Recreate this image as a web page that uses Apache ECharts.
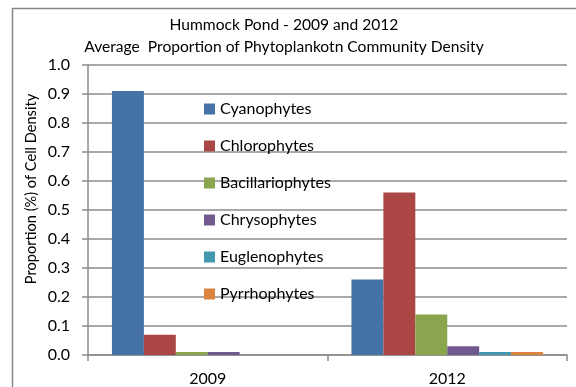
<!DOCTYPE html>
<html>
<head>
<meta charset="utf-8">
<script src="https://cdn.jsdelivr.net/npm/echarts@6/dist/echarts.min.js"></script>
<style>
  html, body { margin: 0; padding: 0; background: #fff; }
  #chart { width: 576px; height: 387px; }
</style>
</head>
<body>
<div id="chart"></div>
<script>
// Sampling years on the category axis
const years = ['2009', '2012'];

// Average proportion of cell density per phytoplankton group
const groupNames = ['Cyanophytes', 'Chlorophytes', 'Bacillariophytes', 'Chrysophytes', 'Euglenophytes', 'Pyrrhophytes'];
const cyanophytes      = [0.91, 0.26];
const chlorophytes     = [0.07, 0.56];
const bacillariophytes = [0.01, 0.14];
const chrysophytes     = [0.01, 0.03];
const euglenophytes    = [0.00, 0.01];
const pyrrhophytes     = [0.00, 0.01];

const groupValues = [cyanophytes, chlorophytes, bacillariophytes, chrysophytes, euglenophytes, pyrrhophytes];
const groupColors = ['#4572A7', '#AA4643', '#89A54E', '#71588F', '#4198AF', '#DB843D'];

const FONT = 'Lato, "Liberation Sans", sans-serif';
const GRAY = '#8c8c8c';

const chart = echarts.init(document.getElementById('chart'), null, { renderer: 'canvas' });

chart.setOption({
  animation: false,
  backgroundColor: '#fff',
  textStyle: { fontFamily: FONT },
  graphic: [
    {
      type: 'rect',
      shape: { x: 12.5, y: 8.5, width: 600, height: 400 },
      style: { fill: 'none', stroke: '#878787', lineWidth: 1.5 },
      silent: true,
      z: -10
    },
    {
      type: 'text',
      x: 284, y: 25,
      style: {
        text: 'Hummock Pond - 2009 and 2012',
        fontFamily: FONT, fontSize: 15.6, fill: '#000',
        align: 'center', verticalAlign: 'middle'
      }
    },
    {
      type: 'text',
      x: 284, y: 47,
      style: {
        text: 'Average  Proportion of Phytoplankotn Community Density',
        fontFamily: FONT, fontSize: 15.6, fill: '#000',
        align: 'center', verticalAlign: 'middle'
      }
    },
    {
      type: 'text',
      x: 31, y: 189,
      rotation: Math.PI / 2,
      style: {
        text: 'Proportion (%) of Cell Density',
        fontFamily: FONT, fontSize: 14.6, fill: '#000',
        align: 'center', verticalAlign: 'middle'
      }
    }
  ],
  legend: {
    orient: 'vertical',
    left: 199,
    top: 95,
    itemWidth: 11,
    itemHeight: 11,
    itemGap: 19,
    icon: 'rect',
    data: groupNames,
    textStyle: { fontFamily: FONT, fontSize: 16, color: '#000', lineHeight: 18 }
  },
  grid: { left: 88, right: 9, top: 65, bottom: 32, containLabel: false },
  xAxis: {
    type: 'category',
    data: years,
    axisLine: { lineStyle: { color: GRAY, width: 1.5 } },
    axisTick: { show: true, length: 6, lineStyle: { color: GRAY, width: 1.5 } },
    axisLabel: { color: '#000', fontFamily: FONT, fontSize: 16, margin: 16 }
  },
  yAxis: {
    type: 'value',
    min: 0,
    max: 1,
    interval: 0.1,
    axisLine: { show: true, lineStyle: { color: GRAY, width: 1.5 } },
    axisTick: { show: true, length: 6, lineStyle: { color: GRAY, width: 1.5 } },
    axisLabel: {
      color: '#000', fontFamily: FONT, fontSize: 16, margin: 18,
      formatter: v => v.toFixed(1)
    },
    splitLine: { show: true, lineStyle: { color: GRAY, width: 1.5 } }
  },
  series: groupNames.map((name, i) => ({
    name: name,
    type: 'bar',
    data: groupValues[i],
    barGap: '0%',
    barCategoryGap: '20%',
    itemStyle: { color: groupColors[i] }
  }))
});
</script>
</body>
</html>
